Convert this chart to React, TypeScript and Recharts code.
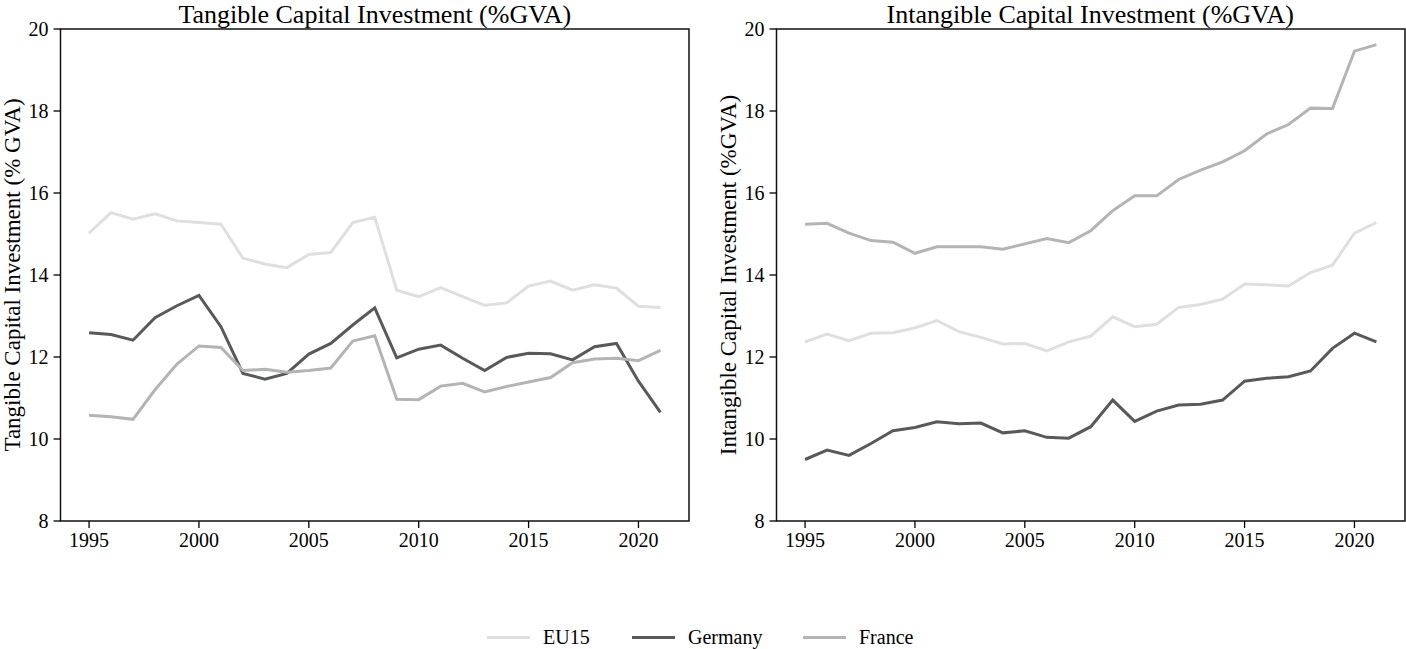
import React from "react";
import { LineChart, Line, XAxis, YAxis, ReferenceArea, Label } from "recharts";

const years = [1995, 1996, 1997, 1998, 1999, 2000, 2001, 2002, 2003, 2004, 2005, 2006, 2007, 2008, 2009, 2010, 2011, 2012, 2013, 2014, 2015, 2016, 2017, 2018, 2019, 2020, 2021];

const eu15Tangible = [15.02, 15.52, 15.36, 15.49, 15.32, 15.28, 15.24, 14.41, 14.27, 14.18, 14.5, 14.55, 15.28, 15.41, 13.63, 13.47, 13.69, 13.47, 13.26, 13.32, 13.73, 13.85, 13.63, 13.76, 13.68, 13.24, 13.21];
const germanyTangible = [12.59, 12.55, 12.41, 12.96, 13.25, 13.5, 12.74, 11.6, 11.46, 11.6, 12.07, 12.33, 12.78, 13.2, 11.98, 12.19, 12.29, 11.97, 11.67, 11.99, 12.09, 12.08, 11.93, 12.25, 12.33, 11.41, 10.65];
const franceTangible = [10.58, 10.54, 10.48, 11.2, 11.83, 12.27, 12.23, 11.67, 11.7, 11.63, 11.67, 11.73, 12.39, 12.52, 10.97, 10.96, 11.29, 11.36, 11.15, 11.28, 11.39, 11.5, 11.86, 11.95, 11.97, 11.91, 12.16];

const eu15Intangible = [12.37, 12.56, 12.4, 12.58, 12.59, 12.71, 12.89, 12.62, 12.48, 12.32, 12.33, 12.15, 12.37, 12.51, 12.98, 12.74, 12.8, 13.21, 13.28, 13.41, 13.78, 13.76, 13.73, 14.06, 14.24, 15.02, 15.28];
const germanyIntangible = [9.5, 9.73, 9.6, 9.89, 10.2, 10.28, 10.42, 10.37, 10.39, 10.15, 10.2, 10.04, 10.02, 10.3, 10.95, 10.43, 10.68, 10.83, 10.85, 10.95, 11.41, 11.48, 11.52, 11.66, 12.21, 12.58, 12.37];
const franceIntangible = [15.24, 15.26, 15.02, 14.84, 14.8, 14.53, 14.69, 14.69, 14.69, 14.63, 14.76, 14.89, 14.79, 15.08, 15.57, 15.93, 15.93, 16.33, 16.56, 16.76, 17.03, 17.44, 17.67, 18.07, 18.06, 19.46, 19.62];

const xTicks = [1995, 2000, 2005, 2010, 2015, 2020];
const yTicks = [8, 10, 12, 14, 16, 18, 20];
const xDomain: [number, number] = [1993.7, 2022.3];
const yDomain: [number, number] = [8, 20];

const seriesNames = ["EU15", "Germany", "France"];
const seriesColors = ["#dfdfdf", "#58595b", "#b3b4b4"];

const FONT = "'Liberation Serif', 'DejaVu Serif', 'Times New Roman', serif";
const TICK_FONT_SIZE = 20;

function buildRows(a: number[], b: number[], c: number[]) {
  return years.map((y, i) => ({ year: y, EU15: a[i], Germany: b[i], France: c[i] }));
}

const tangibleRows = buildRows(eu15Tangible, germanyTangible, franceTangible);
const intangibleRows = buildRows(eu15Intangible, germanyIntangible, franceIntangible);

const CHART_W = 690;
const CHART_H = 570;

function XTick(props: any) {
  const { x, y, payload } = props;
  return (
    <text
      x={x}
      y={y}
      dy={TICK_FONT_SIZE * 0.7}
      textAnchor="middle"
      fontSize={TICK_FONT_SIZE}
      fontFamily={FONT}
      fill="#000"
    >
      {payload.value}
    </text>
  );
}

function YTick(props: any) {
  const { x, y, payload } = props;
  return (
    <text
      x={x}
      y={y}
      dy={TICK_FONT_SIZE * 0.34}
      textAnchor="end"
      fontSize={TICK_FONT_SIZE}
      fontFamily={FONT}
      fill="#000"
    >
      {payload.value}
    </text>
  );
}

function Panel({ rows, yLabel }: { rows: any[]; yLabel: string }) {
  return (
    <LineChart
      width={CHART_W}
      height={CHART_H}
      data={rows}
      margin={{ top: 29, right: 1, left: 0, bottom: 9 }}
      style={{ fontFamily: FONT }}
    >
      <XAxis
        dataKey="year"
        type="number"
        domain={xDomain}
        ticks={xTicks}
        allowDataOverflow
        height={40}
        tickSize={7}
        tickMargin={5}
        axisLine={false}
        tickLine={{ stroke: "#000", strokeWidth: 1.3 }}
        tick={<XTick />}
      />
      <YAxis
        type="number"
        domain={yDomain}
        ticks={yTicks}
        allowDataOverflow
        width={60.5}
        tickSize={7}
        tickMargin={5}
        axisLine={false}
        tickLine={{ stroke: "#000", strokeWidth: 1.3 }}
        tick={<YTick />}
      >
        <Label
          content={(props: any) => {
            const vb = props.viewBox || {};
            const cy = (vb.y || 0) + (vb.height || 0) / 2;
            const cx = 12;
            return (
              <text
                x={cx}
                y={cy}
                transform={`rotate(-90, ${cx}, ${cy})`}
                textAnchor="middle"
                dominantBaseline="central"
                fontSize={23}
                fontFamily={FONT}
                fill="#000"
              >
                {yLabel}
              </text>
            );
          }}
        />
      </YAxis>
      <ReferenceArea
        x1={xDomain[0]}
        x2={xDomain[1]}
        y1={yDomain[0]}
        y2={yDomain[1]}
        fill="none"
        fillOpacity={0}
        stroke="#111"
        strokeWidth={1.5}
        ifOverflow="visible"
      />
      {seriesNames.map((name, i) => (
        <Line
          key={name}
          dataKey={name}
          type="linear"
          stroke={seriesColors[i]}
          strokeWidth={3}
          dot={false}
          activeDot={false}
          isAnimationActive={false}
        />
      ))}
    </LineChart>
  );
}

const legendLineX = [487, 632, 803];

const titleStyle: React.CSSProperties = {
  position: "absolute",
  width: 628.5,
  top: 0,
  lineHeight: "normal",
  fontSize: 26,
  textAlign: "center",
  whiteSpace: "nowrap",
  color: "#000",
};

export default function App() {
  return (
    <div
      style={{
        position: "absolute",
        left: 0,
        top: 0,
        width: 1406,
        height: 649,
        overflow: "hidden",
        background: "#fff",
        fontFamily: FONT,
      }}
    >
      <div style={{ position: "absolute", left: 0, top: 0 }}>
        <Panel rows={tangibleRows} yLabel="Tangible Capital Investment (% GVA)" />
      </div>
      <div style={{ position: "absolute", left: 715.5, top: 0 }}>
        <Panel rows={intangibleRows} yLabel="Intangible Capital Investment (%GVA)" />
      </div>
      <div style={{ ...titleStyle, left: 60.5 }}>Tangible Capital Investment (%GVA)</div>
      <div style={{ ...titleStyle, left: 776 }}>Intangible Capital Investment (%GVA)</div>
      {seriesNames.map((name, i) => (
        <div
          key={name}
          style={{
            position: "absolute",
            left: legendLineX[i],
            top: 624,
            height: 26,
            display: "flex",
            alignItems: "center",
            whiteSpace: "nowrap",
          }}
        >
          <div style={{ width: 43, height: 3, background: seriesColors[i] }} />
          <span style={{ marginLeft: 13, fontSize: 20, lineHeight: "26px", color: "#000" }}>{name}</span>
        </div>
      ))}
    </div>
  );
}
